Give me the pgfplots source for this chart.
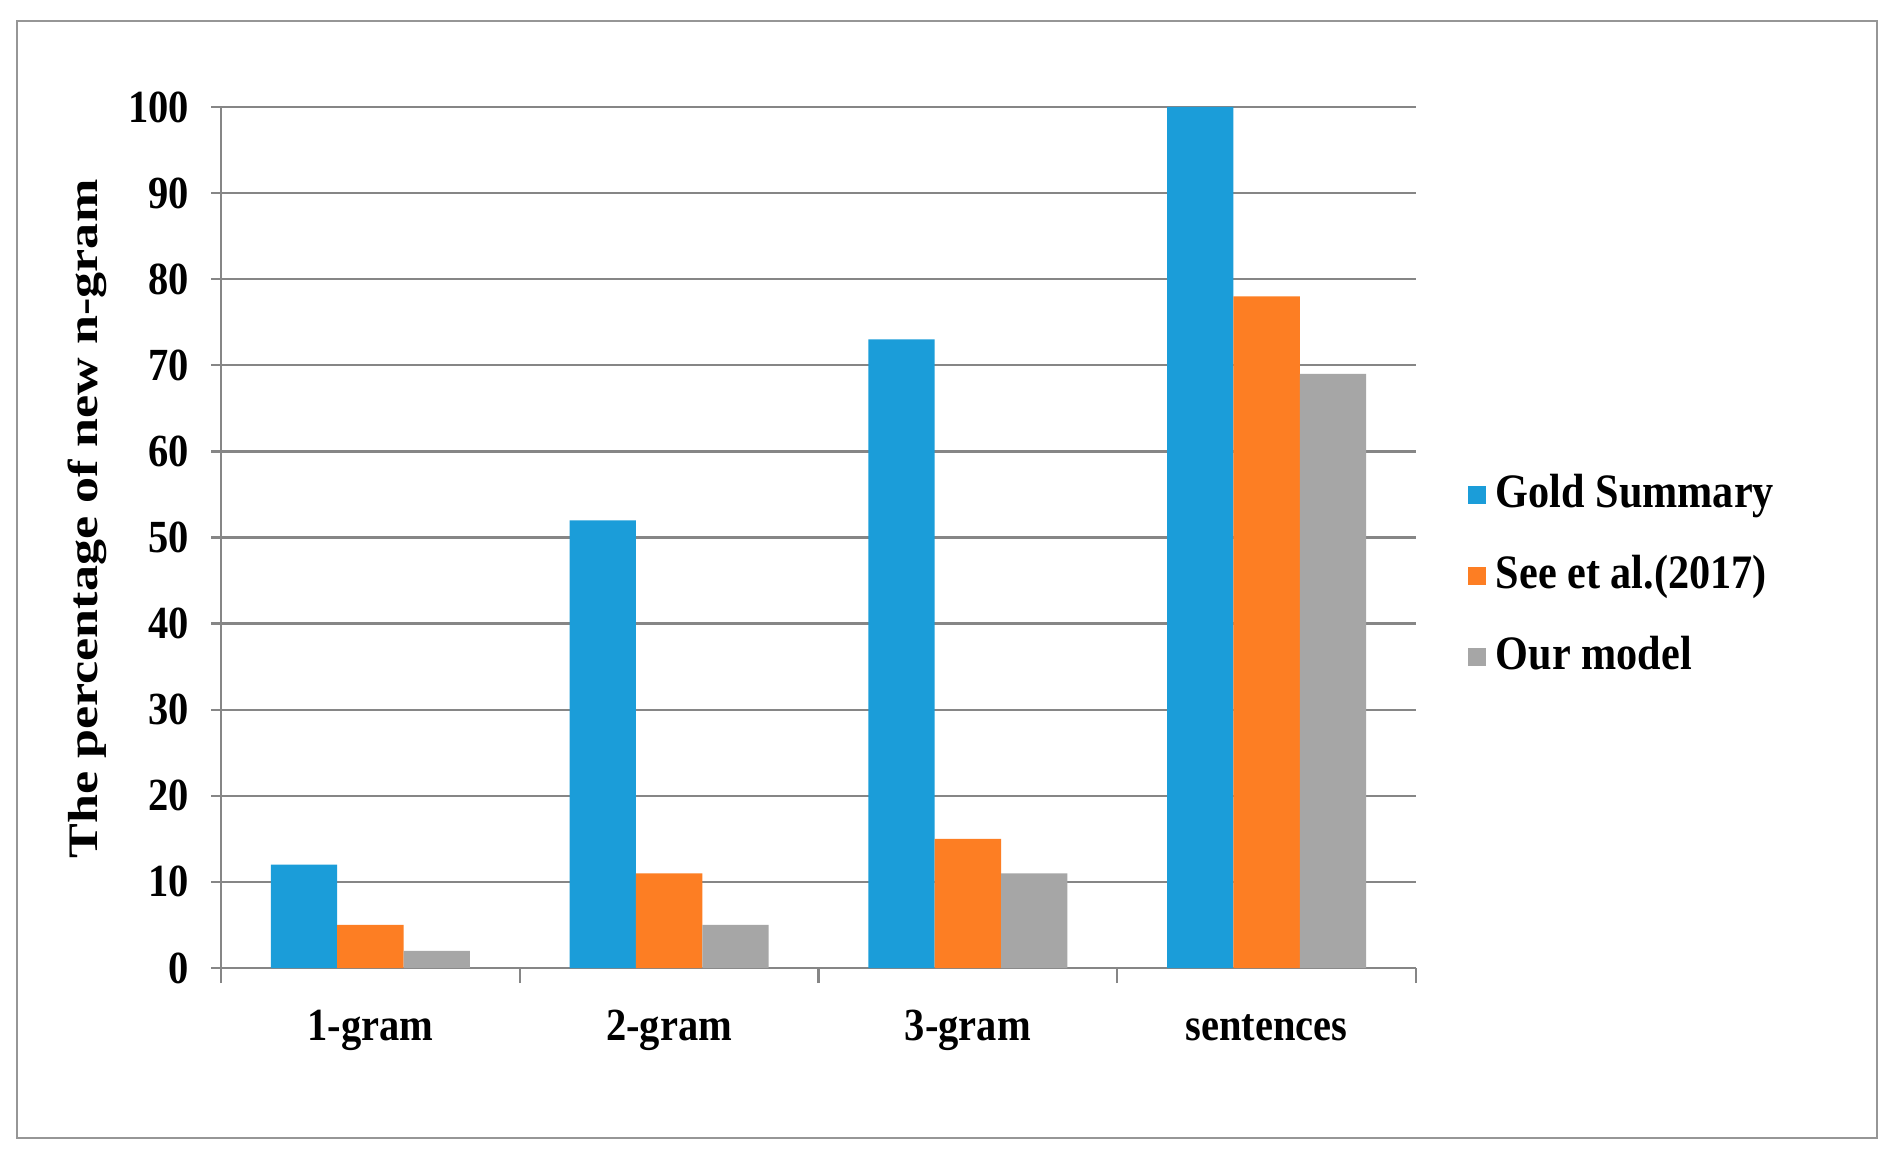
\documentclass[border=0pt]{standalone}
\usepackage{pgfplots}
\pgfplotsset{compat=1.18}
\usepackage{fontspec}
\setmainfont{Liberation Serif}[FakeStretch=0.88]
\newfontfamily\ylabfont{Liberation Serif}[FakeStretch=1.24]
\definecolor{cblue}{RGB}{27,157,217}
\definecolor{corange}{RGB}{253,126,35}
\definecolor{cgray}{RGB}{166,166,166}
\definecolor{cgrid}{RGB}{134,134,134}
\definecolor{cframe}{RGB}{150,150,150}
\begin{document}
\begin{tikzpicture}
\useasboundingbox (0,0) rectangle (473.25pt,289.25pt);
\fill[white] (0,0) rectangle (473.25pt,289.25pt);
\draw[cframe, line width=0.7pt] (4.25pt,4.75pt) rectangle (469.25pt,284pt);
\begin{axis}[
  at={(55.25pt,47.25pt)}, anchor=south west,
  scale only axis, width=298.75pt, height=215.25pt,
  ybar=0pt, bar width=16.6pt,
  xmin=-0.5, xmax=3.5, ymin=0, ymax=100,
  xtick={0,1,2,3}, xticklabels={1-gram,2-gram,3-gram,sentences},
  minor xtick={-0.5,0.5,1.5,2.5,3.5},
  ytick={0,10,...,100},
  axis lines=left, axis line style={-, cgrid, line width=0.6pt},
  ymajorgrids, grid style={cgrid, line width=0.6pt},
  tick align=outside,
  major tick length=2.5pt, minor tick length=3.75pt,
  major x tick style={draw=none},
  minor x tick style={cgrid, line width=0.6pt},
  y tick style={cgrid, line width=0.6pt},
  /pgf/number format/assume math mode=true,
  yticklabel style={font=\fontsize{11.5}{13}\selectfont\bfseries, xshift=-2pt},
  xticklabel style={font=\fontsize{11.5}{13}\selectfont\bfseries, yshift=-4pt, text height=8pt, text depth=2.5pt},
  ylabel={\ylabfont\fontsize{10.5}{12}\selectfont\bfseries The percentage of new n-gram},
  ylabel style={at={(axis description cs:-0.1121,0.5215)}, anchor=center},
  legend image code/.code={\fill[#1,draw=none] (0pt,-2.25pt) rectangle (4.5pt,2.25pt);},
  legend style={draw=none, fill=none, at={(axis description cs:1.0427,0.455)}, anchor=west,
    font=\fontsize{12}{14}\selectfont\bfseries, row sep=8.25pt, inner sep=0pt,
    nodes={inner xsep=2.5pt, inner ysep=0pt, text height=9pt, text depth=3pt}},
  legend cell align=left,
]
\addplot[fill=cblue, draw=none] coordinates {(0,12) (1,52) (2,73) (3,100)};
\addplot[fill=corange, draw=none] coordinates {(0,5) (1,11) (2,15) (3,78)};
\addplot[fill=cgray, draw=none] coordinates {(0,2) (1,5) (2,11) (3,69)};
\legend{Gold Summary, See et al.(2017), Our model}
\end{axis}
\end{tikzpicture}
\end{document}
